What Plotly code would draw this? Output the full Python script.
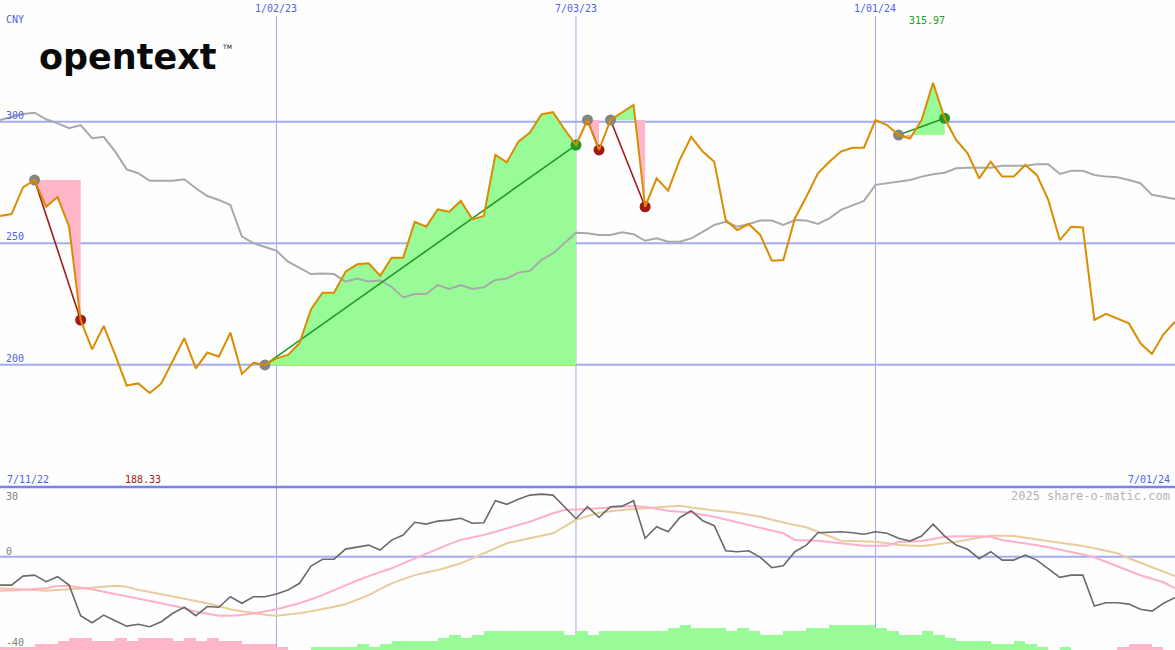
import plotly.graph_objects as go
import pandas as pd

# ---------------- data ----------------
start_date = "2022-07-18"
n_weeks = 103

price = [261.2, 262, 273, 276, 265, 269, 256.8, 218.4, 206.3, 216, 204, 191.4, 192.3, 188.33,
         192.3, 201.9, 210.9, 198.5, 205, 203.3, 213.2, 196.2, 200.8, 199.9,
         202.6, 204, 208.8, 222.8, 229.6, 229.6, 238.3, 241.3, 241.7, 236.6, 244, 244, 258.8,
         256.8, 263.9, 263, 267.4, 259.8, 261.2, 286.3, 283.3, 291.8, 295.5, 303, 303.9, 296.9, 290.4,
         300.7, 288.4, 300.7, 303.7, 306.9, 265, 276.7, 271.6, 284.2, 293.8, 287.7, 283.5, 259.5,
         255.4, 257.9, 253.4, 242.8, 243.1, 260.2, 269.1, 278.8, 283.5, 287.7, 289.3, 289.3, 300.7,
         298.6, 294.5, 293.1, 300.7, 315.97, 301.4, 292.5, 287, 276.7, 283.5, 277.4, 277.4, 282.2,
         278.1, 267.8, 251.3, 256.8, 256.5, 218.4, 220.9, 219.1, 217, 208.8, 204.4, 212.5, 217.7]

avg = [300.7, 301.8, 303.2, 303.7, 301, 299.3, 297.3, 298.6, 293.2, 293.8, 287.7, 280.4, 278.8,
       275.7, 275.7, 275.7, 276.3, 272.6, 269.4, 267.8, 265.7, 252.7, 250, 248.3, 246.9, 242.4,
       239.7, 237.3, 237.5, 237.3, 234.2, 235.5, 234.2, 234.6, 232.1, 227.7, 229.1, 229.1, 232.8,
       231.2, 232.8, 231.2, 231.9, 234.9, 235.5, 237.9, 238.6, 243.1, 245.8, 250.2, 254.3, 254.1,
       253.4, 253.4, 254.5, 253.7, 251, 252, 250.6, 250.6, 252, 254.7, 257.5, 258.8, 256.8, 257.9,
       259.3, 259.3, 257.5, 259.5, 259.3, 257.9, 260.2, 263.7, 265.7, 267.4, 274, 274.7, 275.3,
       276, 277.4, 278.4, 279, 280.8, 281.1, 281.1, 281.1, 281.9, 281.9, 281.9, 282.5, 282.5,
       278.5, 279.8, 279.8, 278.1, 277.4, 277.1, 276, 274.7, 269.9, 268.9, 268.2]

momentum = [-14.2, -14.2, -9.7, -9.2, -12.5, -10, -14.2, -29.5, -33, -29.2, -32, -34.7, -33.8, -35,
            -32.5, -28.3, -25.3, -29.5, -24.9, -25.3, -20, -23.3, -20, -20, -18.7, -16.7, -13.3,
            -4.7, -1.3, -1.2, 3.8, 4.7, 5.8, 3.3, 8.3, 10.8, 17.2, 16.3, 17.8, 18.3, 19.2, 16.7, 17,
            28, 26.2, 28.7, 30.8, 31.3, 30.8, 25, 19, 25, 19.7, 25, 25.3, 28, 9.2, 15, 12.5, 19.5,
            23, 18, 15.5, 3, 2.5, 3, -0.3, -5.5, -4.5, 2.5, 5.8, 12, 12.2, 12.5, 12, 11.2, 12.5,
            11.7, 9.2, 7.8, 10.3, 16.3, 10.3, 5.8, 3.7, -1, 2.5, -1.7, -1.7, 0.8, -1.7, -5.8, -10.3,
            -9.2, -9.2, -24.7, -23, -23, -23.7, -26.3, -27.2, -23.3, -20.5]

signal_fast = [-17, -16.9, -16.7, -16.2, -15.8, -14.7, -14.7, -15.5, -16.3, -17.5, -18.6, -19.7,
               -20.8, -22, -23.3, -24.5, -25.8, -27.5, -28.5, -29.5, -29.5, -29.2, -28.4, -27.5,
               -26.3, -24.8, -23.3, -21.3, -19.2, -16.7, -14.2, -11.9, -9.7, -7.8, -5.8, -3.3, -0.8,
               1.7, 4.2, 6.3, 8.4, 9.6, 10.9, 12.5, 14.2, 15.8, 17.5, 19.6, 21.7, 23.3, 23.4, 23.8,
               24.2, 24.6, 25, 25.3, 24.9, 24, 23, 22.5, 22, 21, 20, 18.6, 17.2, 16, 14.7, 13.2,
               11.7, 8.4, 8.2, 8, 7.3, 6.7, 6.1, 5.5, 5.5, 5.5, 7.3, 7.6, 7.9, 8.9, 10, 10.2, 10.3,
               10.2, 10, 8.4, 7.5, 6.7, 5.7, 4.7, 3.6, 2.5, 1.1, -0.3, -2.6, -5, -7.1, -9.3, -11,
               -12.8, -15.8]

signal_slow = [-15.8, -16, -16.3, -16.7, -17, -16.7, -16.3, -15.9, -15.5, -15, -14.5, -15, -16.6,
               -17.7, -18.8, -19.8, -20.8, -22, -23.3, -24.8, -26.3, -27.3, -28.3, -29, -29.5, -29,
               -28.3, -27.3, -26.3, -25, -23.8, -21.5, -19.2, -16.2, -13.3, -11.2, -9.2, -7.9, -6.7,
               -5, -3.3, -0.8, 1.7, 4.2, 6.7, 8, 9.2, 10.5, 11.7, 15, 18.5, 20.3, 22, 22.7, 23.4,
               23.8, 24.2, 24.7, 25.1, 25.5, 24.6, 23.7, 23.1, 22.6, 22, 21, 20, 18.5, 17, 15.8,
               14.7, 12.5, 10.2, 8, 7.8, 7.6, 7.5, 6.7, 5.9, 5.6, 5.4, 6, 6.7, 7.5, 8.5, 9.5, 10.5,
               10.5, 10.4, 9.5, 8.7, 7.9, 7.1, 6.4, 5.3, 4.2, 3, 1.7, -0.8, -3, -5.3, -7.5, -9.7]

histogram = [-3.3, -3.3, -3.3, -6, -6, -9, -11.7, -11.7, -9, -9, -11.7, -9, -11.7, -11.7, -11.7,
             -9, -11.7, -9, -11.7, -9, -9, -6, -6, -6, -3.3, 0, 0, 2.7, 2.7, 2.7, 2.7, 6, 3.3, 6,
             9, 9, 9, 9, 11.7, 15, 11.7, 15, 19, 19, 19, 19, 19, 19, 19, 15, 19, 15, 19, 19, 19,
             19, 19, 19, 22.3, 25, 22.3, 22.3, 22.3, 19, 22.3, 19, 15, 15, 19, 19, 22.3, 22.3, 25,
             25, 25, 25, 22.3, 19, 15, 15, 19, 15, 11.7, 9, 9, 9, 6, 6, 9, 6, 3.3, 0, 3.3, 0, 0,
             0, 0, -3.3, -6, -6, -3.3, 0]

# trades: (entry index, exit index)
trades = [(3, 7), (23, 50), (51, 52), (53, 56), (78, 82)]

price_ticks = [300, 250, 200]
date_ticks = ["2023-01-02", "2023-07-03", "2024-01-01"]
date_tick_labels = ["1/02/23", "7/03/23", "1/01/24"]
max_label = "315.97"
min_label = "188.33"

# ---------------- styles ----------------
W, H = 1175, 650
ORANGE = "#dc8c00"
GRAY_MA = "#a9a9a9"
PINK_FILL = "#ffb6c8"
GREEN_FILL = "#98fb98"
LOSS = "#a31919"
WIN = "#229a22"
GRID = "#a4acf0"
BLUE_TXT = "#4f5ef0"
MONO = "DejaVu Sans Mono"

dates = pd.date_range(start_date, periods=n_weeks, freq="7D")
tms = [d.value / 1e6 for d in dates]  # ms

top_dom = [(H - 487) / H, 1.0]
bot_dom = [0.0, (H - 488) / H]
# top axis: 300 @ y=121.7px, 200 @ y=364.7px
ppu = (364.7 - 121.7) / 100.0
top_range = [200 - (487 - 364.7) / ppu, 300 + 121.7 / ppu]
# bottom axis: 0 @ y=556.7px, 2 px per unit
bot_range = [-(650 - 556.7) / 2.0, (556.7 - 488) / 2.0]

fig = go.Figure()

# ---- trade fills ----
def to_dt(ms):
    return pd.to_datetime(ms, unit="ms")

for a, b in trades:
    L = price[a]
    pts = []
    for i in range(a, b + 1):
        if i > a:
            d0, d1 = price[i - 1] - L, price[i] - L
            if d0 * d1 < 0:
                f = d0 / (d0 - d1)
                pts.append((tms[i - 1] + f * (tms[i] - tms[i - 1]), L))
        pts.append((tms[i], price[i]))
    for color, fn, test in ((GREEN_FILL, max, lambda y: y > L), (PINK_FILL, min, lambda y: y < L)):
        if not any(test(y) for _, y in pts):
            continue
        poly = [(x, fn(y, L)) for x, y in pts] + [(tms[b], L), (tms[a], L)]
        fig.add_trace(go.Scatter(
            x=[to_dt(x) for x, _ in poly], y=[y for _, y in poly],
            mode="lines", fill="toself", fillcolor=color,
            line=dict(width=0, color=color), hoverinfo="skip", showlegend=False,
            xaxis="x", yaxis="y"))

# ---- moving average ----
fig.add_trace(go.Scatter(x=dates, y=avg, mode="lines", line=dict(color=GRAY_MA, width=2),
                         showlegend=False, xaxis="x", yaxis="y"))

# ---- trade lines and markers ----
for a, b in trades:
    col = WIN if price[b] >= price[a] else LOSS
    fig.add_trace(go.Scatter(x=[dates[a], dates[b]], y=[price[a], price[b]], mode="lines",
                             line=dict(color=col, width=1.6), showlegend=False,
                             xaxis="x", yaxis="y"))
for a, b in trades:
    col = WIN if price[b] >= price[a] else LOSS
    fig.add_trace(go.Scatter(x=[dates[a]], y=[price[a]], mode="markers",
                             marker=dict(color="#858585", size=11), showlegend=False,
                             xaxis="x", yaxis="y"))
    fig.add_trace(go.Scatter(x=[dates[b]], y=[price[b]], mode="markers",
                             marker=dict(color=col, size=11), showlegend=False,
                             xaxis="x", yaxis="y"))

# ---- price ----
fig.add_trace(go.Scatter(x=dates, y=price, mode="lines", line=dict(color=ORANGE, width=2),
                         showlegend=False, xaxis="x", yaxis="y"))

# ---- lower panel ----
bar_x = [dates[j] + pd.Timedelta(days=3.5) for j in range(len(histogram))]
fig.add_trace(go.Bar(x=bar_x, y=[abs(v) for v in histogram],
                     marker=dict(color=[GREEN_FILL if v > 0 else PINK_FILL for v in histogram],
                                 line=dict(width=0)),
                     width=7 * 86400000, showlegend=False, xaxis="x", yaxis="y3"))
fig.add_trace(go.Scatter(x=dates, y=signal_slow, mode="lines", line=dict(color="#e8cc9c", width=2),
                         showlegend=False, xaxis="x", yaxis="y2"))
fig.add_trace(go.Scatter(x=dates, y=signal_fast, mode="lines", line=dict(color="#ffb0c8", width=2),
                         showlegend=False, xaxis="x", yaxis="y2"))
fig.add_trace(go.Scatter(x=dates, y=momentum, mode="lines", line=dict(color="#6a6a6a", width=1.6),
                         showlegend=False, xaxis="x", yaxis="y2"))

# ---- grid shapes ----
shapes = []
for v in price_ticks:
    shapes.append(dict(type="line", xref="paper", x0=0, x1=1, yref="y", y0=v, y1=v,
                       line=dict(color=GRID, width=2), layer="below"))
shapes.append(dict(type="line", xref="paper", x0=0, x1=1, yref="y2", y0=0, y1=0,
                   line=dict(color=GRID, width=2), layer="below"))
for d in date_ticks:
    shapes.append(dict(type="line", xref="x", x0=d, x1=d, yref="paper", y0=0, y1=(H - 16) / H,
                       line=dict(color=GRID, width=1), layer="below"))
shapes.append(dict(type="line", xref="paper", x0=0, x1=1, yref="paper",
                   y0=(H - 487) / H, y1=(H - 487) / H,
                   line=dict(color="#7883ea", width=2.5), layer="above"))

# ---- annotations ----
def ann(text, x, y, xref="paper", yref="paper", xanchor="left", color=BLUE_TXT, size=10,
        family=MONO, yanchor="middle", **kw):
    return dict(text=text, x=x, y=y, xref=xref, yref=yref, xanchor=xanchor, yanchor=yanchor,
                showarrow=False, font=dict(family=family, size=size, color=color), **kw)

def py(px):
    return 1 - px / H

anns = []
anns.append(ann("CNY", 4 / W, py(19)))
for d, lab in zip(date_ticks, date_tick_labels):
    anns.append(ann(lab, d, py(9), xref="x", xanchor="center"))
for v in price_ticks:
    anns.append(ann(str(v), 4 / W, v, yref="y", yanchor="bottom", yshift=-1))
imax = price.index(max(price))
imin = price.index(min(price))
anns.append(ann(max_label, dates[imax], py(20), xref="x", xanchor="center", color=WIN, xshift=-6))
anns.append(ann(min_label, dates[imin], py(479), xref="x", xanchor="center", color="#a31919",
                xshift=-7))
anns.append(ann("7/11/22", 5 / W, py(479)))
anns.append(ann(dates[-1].strftime("%-m/%d/%y"), 1172 / W, py(479), xanchor="right"))
anns.append(ann("30", 4 / W, py(496), color="#808080"))
anns.append(ann("0", 4 / W, py(551), color="#808080"))
anns.append(ann("-40", 4 / W, py(642), color="#808080"))
anns.append(ann("2025 share-o-matic.com", 1172 / W, py(496), xanchor="right", color="#b4b4b4",
                size=12))
# logo
anns.append(ann("<b>opentext</b>", 37 / W, py(57), color="#0a0a0a", size=35,
                family="DejaVu Sans"))
anns.append(ann("TM", 220 / W, py(46), color="#0a0a0a", size=6, family="DejaVu Sans"))

fig.update_layout(
    width=W, height=H, margin=dict(l=0, r=0, t=0, b=0),
    paper_bgcolor="#fdfefd", plot_bgcolor="rgba(0,0,0,0)",
    showlegend=False, bargap=0,
    xaxis=dict(range=[dates[0], dates[-1]], showgrid=False, zeroline=False, showticklabels=False,
               ticks="", anchor="y2", showline=False),
    yaxis=dict(domain=top_dom, range=top_range, showgrid=False, zeroline=False,
               showticklabels=False, ticks=""),
    yaxis2=dict(domain=bot_dom, range=bot_range, showgrid=False, zeroline=False,
                showticklabels=False, ticks=""),
    yaxis3=dict(domain=bot_dom, range=[0, 162], overlaying="y2", showgrid=False,
                zeroline=False, showticklabels=False, ticks=""),
    shapes=shapes, annotations=anns,
)

fig.write_html("out.html", config={"displayModeBar": False},
               post_script="document.body.style.margin='0';document.body.style.overflow='hidden';")
